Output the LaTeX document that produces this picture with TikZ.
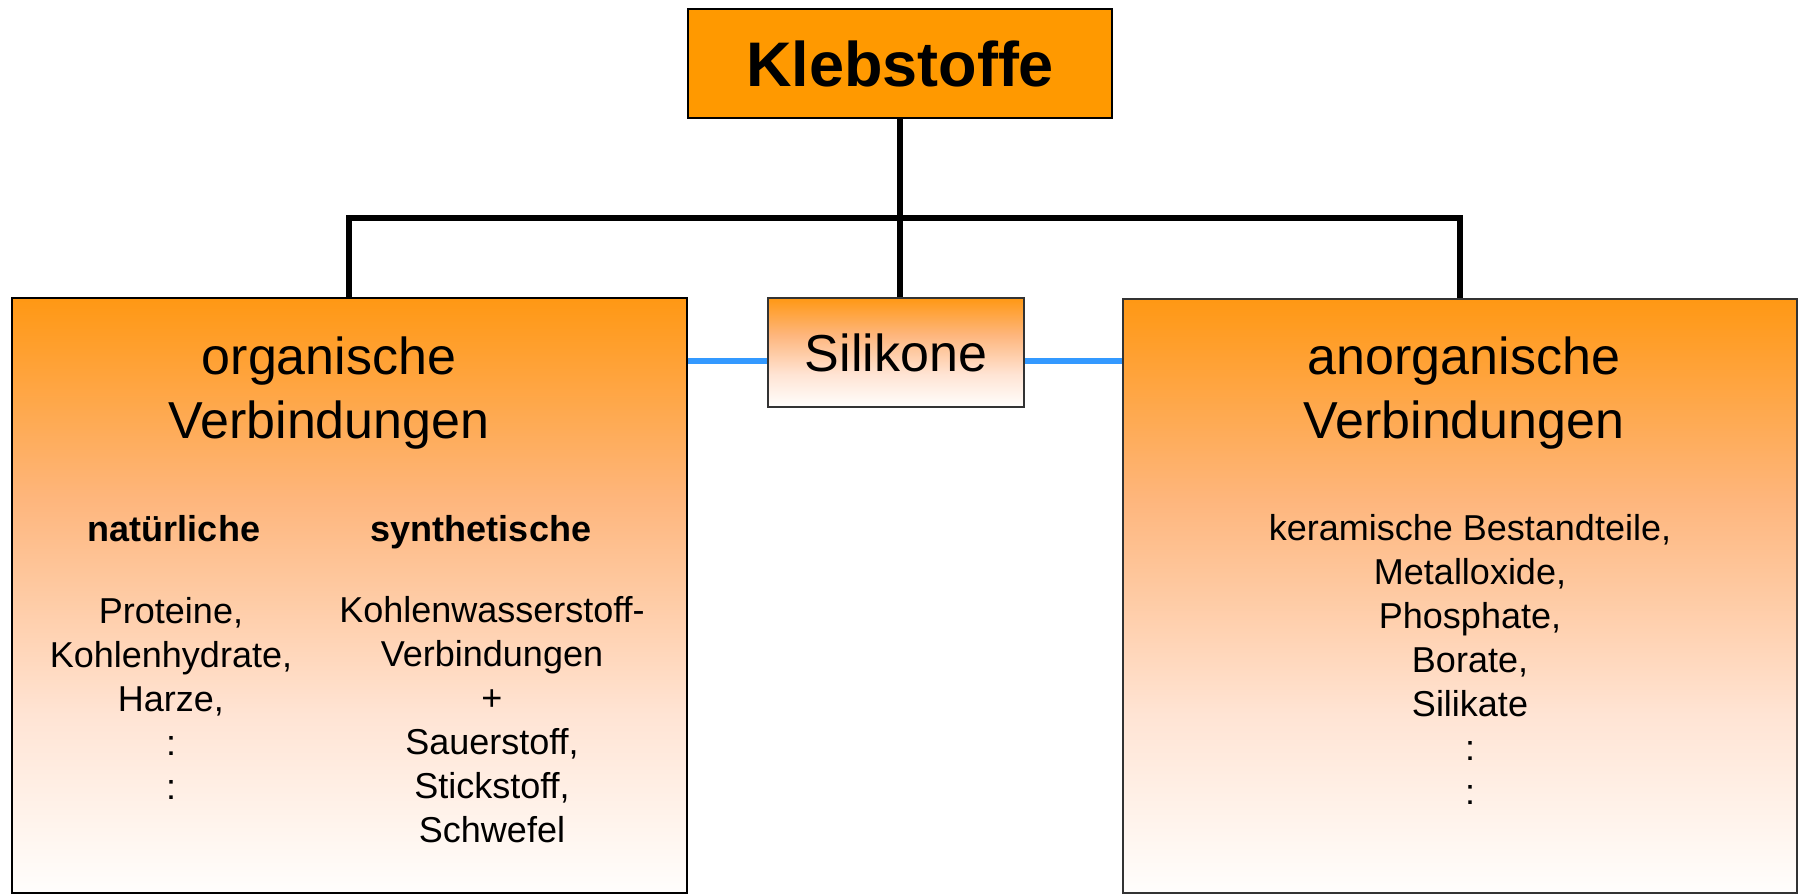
\documentclass[tikz,border=0pt]{standalone}
\usepackage{fontspec}
\setmainfont{Liberation Sans}
\usepackage{xcolor}
\usetikzlibrary{positioning}
\definecolor{klebe}{HTML}{FF9900}
\definecolor{linkblue}{HTML}{3399FF}
\definecolor{rim}{HTML}{333333}
% orange at the top, fading to white at the bottom
\pgfdeclareverticalshading{fade}{100bp}{rgb(0bp)=(1,1,1); rgb(25bp)=(1,0.996,0.99);
  rgb(40bp)=(1,0.894,0.831); rgb(58bp)=(0.996,0.714,0.49);
  rgb(75bp)=(1,0.596,0.078); rgb(100bp)=(1,0.596,0.078)}

\begin{document}
\begin{tikzpicture}[x=0.5pt,y=-0.5pt,
  mainbox/.style={draw=black,line width=1.3pt,fill=klebe,minimum width=212pt,
    minimum height=54.5pt,inner sep=0pt,font=\fontsize{31.5}{38}\selectfont\bfseries},
  groupbox/.style={draw=black,line width=1pt,shading=fade,minimum width=337.5pt,
    minimum height=297.5pt,inner sep=0pt},
  silbox/.style={draw=rim,line width=1pt,shading=fade,minimum width=128pt,
    minimum height=54.5pt,inner sep=0pt,font=\fontsize{26}{32}\selectfont},
  headtext/.style={anchor=north,align=center,inner sep=0pt,font=\fontsize{26}{32}\selectfont},
  subhead/.style={anchor=base,inner sep=0pt,font=\fontsize{18}{22}\selectfont\bfseries},
  listtext/.style={anchor=north,align=center,inner sep=0pt,font=\fontsize{18}{22}\selectfont},
  tree/.style={line width=3pt},
  link/.style={linkblue,line width=3pt}]
\useasboundingbox (0,0) rectangle (1803,895);

\node[mainbox] (kleb) at (900,63.5) {Klebstoffe};
\node[groupbox] (org) at (349,595.5) {};
\node[groupbox,draw=rim,minimum width=337pt,minimum height=297pt] (anorg) at (1460,596) {};
\node[silbox] (sil) at (896,352.5) {Silikone};

\coordinate (fork) at (900,218);
\draw[tree] (kleb.south) -- (kleb.south |- sil.north);
\draw[tree] (org.north) |- (fork) -| (anorg.north);

\draw[link] ([yshift=-4pt]sil.west -| org.east) -- ([yshift=-4pt]sil.west);
\draw[link] ([yshift=-4pt]sil.east) -- ([yshift=-4pt]sil.east -| anorg.west);

\node[headtext] (orghead) at (329,336) {organische\\Verbindungen};
\node[headtext] (anorghead) at (1464,336) {anorganische\\Verbindungen};

\node[subhead] (nat) at (174,541) {natürliche};
\node[subhead] (syn) at (481,541) {synthetische};
\node[listtext] (natlist) at (171,597) {Proteine,\\Kohlenhydrate,\\Harze,\\:\\:};
\node[listtext] (synlist) at (492,596) {Kohlenwasserstoff-\\Verbindungen\\+\\Sauerstoff,\\Stickstoff,\\Schwefel};
\node[listtext] (anorglist) at (1470,514) {keramische Bestandteile,\\Metalloxide,\\Phosphate,\\Borate,\\Silikate\\:\\:};
\end{tikzpicture}
\end{document}
